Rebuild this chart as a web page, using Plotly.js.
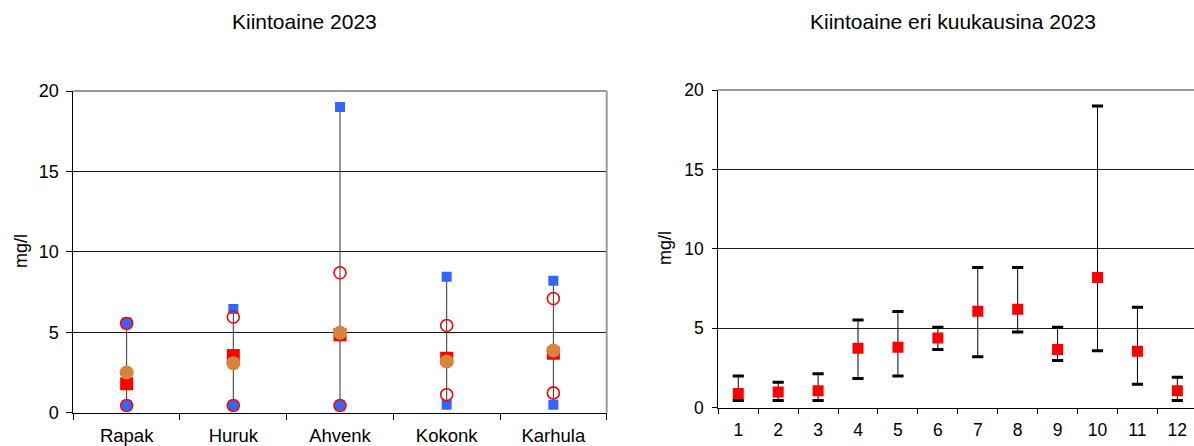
<!DOCTYPE html>
<html>
<head>
<meta charset="utf-8">
<script src="https://cdn.plot.ly/plotly-3.0.1.min.js"></script>
<style>html,body{margin:0;padding:0;background:#fff;}#chart{width:1194px;height:446px;}</style>
</head>
<body>
<div id="chart"></div>
<script>
// ---- Left chart: sites ----
const sites = ['Rapak', 'Huruk', 'Ahvenk', 'Kokonk', 'Karhula'];
const siteMax = [5.6, 6.45, 19.0, 8.45, 8.2];
const siteMin = [0.45, 0.45, 0.45, 0.5, 0.5];
const siteP90 = [5.55, 5.95, 8.7, 5.42, 7.1];
const siteP10 = [0.45, 0.45, 0.45, 1.12, 1.23];
const siteMean = [1.8, 3.55, 4.85, 3.38, 3.7];
const siteMedian = [2.5, 3.07, 4.97, 3.18, 3.86];
const siteObsHigh = [5.55, null, null, null, null];
const siteObsLow = [0.45, 0.45, 0.45, null, null];

// ---- Right chart: months ----
const months = ['1', '2', '3', '4', '5', '6', '7', '8', '9', '10', '11', '12'];
const monthMean = [0.9, 0.99, 1.07, 3.74, 3.8, 4.39, 6.07, 6.2, 3.67, 8.2, 3.55, 1.07];
const monthMax = [2.0, 1.6, 2.14, 5.52, 6.05, 5.06, 8.82, 8.82, 5.06, 19.0, 6.32, 1.91];
const monthMin = [0.45, 0.45, 0.45, 1.84, 2.0, 3.67, 3.2, 4.77, 2.97, 3.58, 1.48, 0.45];

const yTicks = [0, 5, 10, 15, 20];
const titleLeft = 'Kiintoaine 2023';
const titleRight = 'Kiintoaine eri kuukausina 2023';
const yLabel = 'mg/l';

const FONT = 'Liberation Sans, Arial, sans-serif';
const BLUE = '#3366FF';
const RED = '#FF0000';
const ORANGE = '#D8843C';

const traces = [
  // left: range lines min..max
  {x: sites, y: siteMax, xaxis: 'x', yaxis: 'y', type: 'scatter', mode: 'markers',
   marker: {size: 10, symbol: 'square', color: BLUE},
   error_y: {type: 'data', symmetric: false, array: siteMax.map(() => 0),
             arrayminus: siteMax.map((v, i) => v - siteMin[i]), width: 0, thickness: 1, color: '#333'},
   hoverinfo: 'skip'},
  {x: sites, y: siteMin, xaxis: 'x', yaxis: 'y', type: 'scatter', mode: 'markers',
   marker: {size: 10, symbol: 'square', color: BLUE}},
  {x: sites, y: siteObsHigh, xaxis: 'x', yaxis: 'y', type: 'scatter', mode: 'markers',
   marker: {size: 11, symbol: 'circle', color: BLUE}},
  {x: sites, y: siteObsLow, xaxis: 'x', yaxis: 'y', type: 'scatter', mode: 'markers',
   marker: {size: 11, symbol: 'circle', color: BLUE}},
  {x: sites, y: siteP90, xaxis: 'x', yaxis: 'y', type: 'scatter', mode: 'markers',
   marker: {size: 12, symbol: 'circle-open', color: RED, line: {width: 1.6, color: RED}}},
  {x: sites, y: siteP10, xaxis: 'x', yaxis: 'y', type: 'scatter', mode: 'markers',
   marker: {size: 12, symbol: 'circle-open', color: RED, line: {width: 1.6, color: RED}}},
  {x: sites, y: siteMean, xaxis: 'x', yaxis: 'y', type: 'scatter', mode: 'markers',
   marker: {size: 13, symbol: 'square', color: RED}},
  {x: sites, y: siteMedian, xaxis: 'x', yaxis: 'y', type: 'scatter', mode: 'markers',
   marker: {size: 14, symbol: 'circle', color: ORANGE}},

  // right: min..max whiskers
  {x: months, y: monthMean, xaxis: 'x2', yaxis: 'y2', type: 'scatter', mode: 'markers',
   marker: {size: 0.1, color: 'rgba(0,0,0,0)'},
   error_y: {type: 'data', symmetric: false,
             array: monthMax.map((v, i) => v - monthMean[i]),
             arrayminus: monthMean.map((v, i) => v - monthMin[i]),
             width: 0, thickness: 1, color: '#000'}},
  {x: months, y: monthMax, xaxis: 'x2', yaxis: 'y2', type: 'scatter', mode: 'markers',
   marker: {size: 8, symbol: 'line-ew', color: '#000', line: {width: 3, color: '#000'}}},
  {x: months, y: monthMin, xaxis: 'x2', yaxis: 'y2', type: 'scatter', mode: 'markers',
   marker: {size: 8, symbol: 'line-ew', color: '#000', line: {width: 3, color: '#000'}}},
  {x: months, y: monthMean, xaxis: 'x2', yaxis: 'y2', type: 'scatter', mode: 'markers',
   marker: {size: 11, symbol: 'square', color: RED}}
];

const yAxisCommon = {
  range: [0, 20], tickvals: yTicks, ticktext: yTicks.map(String),
  showline: true, linecolor: '#000', linewidth: 1,
  ticks: 'outside', ticklen: 6, tickcolor: '#000',
  showgrid: true, gridcolor: '#1a1a1a', gridwidth: 1, zeroline: false,
  fixedrange: true
};
const xAxisCommon = {
  type: 'category', showline: true, linecolor: '#000', linewidth: 1,
  ticks: 'outside', ticklen: 6, tickcolor: '#000', tickson: 'boundaries',
  showgrid: false, zeroline: false, fixedrange: true
};

const layout = {
  width: 1194, height: 446,
  margin: {l: 0, r: 0, t: 0, b: 0},
  paper_bgcolor: '#fff', plot_bgcolor: '#fff',
  showlegend: false,
  font: {family: FONT, color: '#000'},
  xaxis: Object.assign({}, xAxisCommon, {domain: [73.3 / 1194, 606.7 / 1194], range: [-0.5, 4.5], anchor: 'y',
                                         ticklabelstandoff: 6, tickfont: {family: FONT, size: 18.5, color: '#000'}}),
  yaxis: Object.assign({}, yAxisCommon, {domain: [1 - 412.7 / 446, 1 - 91 / 446], anchor: 'x',
                                         ticklabelstandoff: 4, tickfont: {family: FONT, size: 18, color: '#000'}}),
  xaxis2: Object.assign({}, xAxisCommon, {domain: [718.3 / 1194, 1], range: [-0.5, 11.417], anchor: 'y2',
                                          ticklen: 5, ticklabelstandoff: 6, tickfont: {family: FONT, size: 17.5, color: '#000'}}),
  yaxis2: Object.assign({}, yAxisCommon, {domain: [1 - 407.7 / 446, 1 - 90 / 446], anchor: 'x2',
                                          ticklen: 5, ticklabelstandoff: 5, tickfont: {family: FONT, size: 17.5, color: '#000'}}),
  shapes: [
    {type: 'line', xref: 'x domain', yref: 'y domain', x0: 0, x1: 1, y0: 1, y1: 1, line: {color: '#999', width: 2}},
    {type: 'line', xref: 'x domain', yref: 'y domain', x0: 1, x1: 1, y0: 0, y1: 1, line: {color: '#999', width: 2}},
    {type: 'line', xref: 'x2 domain', yref: 'y2 domain', x0: 0, x1: 1, y0: 1, y1: 1, line: {color: '#999', width: 2}}
  ],
  annotations: [
    {text: titleLeft, xref: 'paper', yref: 'paper', x: 304 / 1194, y: 1 - 21 / 446,
     xanchor: 'center', yanchor: 'middle', showarrow: false, font: {family: FONT, size: 21, color: '#000'}},
    {text: titleRight, xref: 'paper', yref: 'paper', x: 953 / 1194, y: 1 - 21 / 446,
     xanchor: 'center', yanchor: 'middle', showarrow: false, font: {family: FONT, size: 21, color: '#000'}},
    {text: yLabel, xref: 'paper', yref: 'paper', x: 21 / 1194, y: 1 - 251 / 446, textangle: -90,
     xanchor: 'center', yanchor: 'middle', showarrow: false, font: {family: FONT, size: 18, color: '#000'}},
    {text: yLabel, xref: 'paper', yref: 'paper', x: 665 / 1194, y: 1 - 248 / 446, textangle: -90,
     xanchor: 'center', yanchor: 'middle', showarrow: false, font: {family: FONT, size: 18, color: '#000'}}
  ]
};

Plotly.newPlot('chart', traces, layout, {displayModeBar: false, staticPlot: true});
</script>
</body>
</html>
